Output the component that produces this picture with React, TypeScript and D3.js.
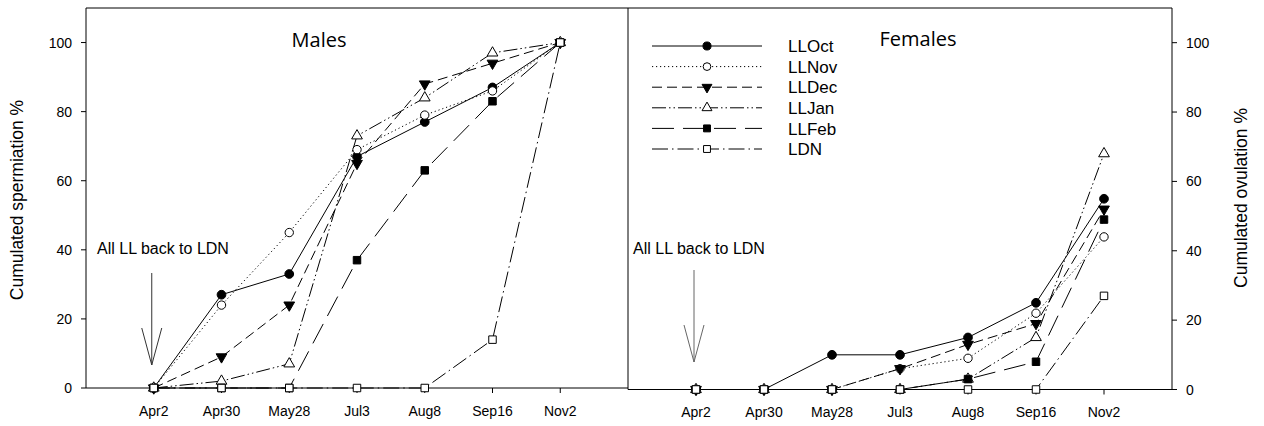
import React from 'react';
import * as d3 from 'd3';

const dates = ['Apr2', 'Apr30', 'May28', 'Jul3', 'Aug8', 'Sep16', 'Nov2'];
const yTicks = [0, 20, 40, 60, 80, 100];
const seriesNames = ['LLOct', 'LLNov', 'LLDec', 'LLJan', 'LLFeb', 'LDN'];

// Males: cumulated spermiation %
const malesLLOct = [0, 27, 33, 67, 77, 87, 100];
const malesLLNov = [0, 24, 45, 69, 79, 86, 100];
const malesLLDec = [0, 9, 24, 65, 88, 94, 100];
const malesLLJan = [0, 2, 7, 73, 84, 97, 100];
const malesLLFeb = [0, 0, 0, 37, 63, 83, 100];
const malesLDN = [0, 0, 0, 0, 0, 14, 100];

// Females: cumulated ovulation %
const femalesLLOct = [0, 0, 10, 10, 15, 25, 55];
const femalesLLNov = [0, 0, 0, 6, 9, 22, 44];
const femalesLLDec = [0, 0, 0, 6, 13, 19, 52];
const femalesLLJan = [0, 0, 0, 0, 3, 15, 68];
const femalesLLFeb = [0, 0, 0, 0, 3, 8, 49];
const femalesLDN = [0, 0, 0, 0, 0, 0, 27];

const malesData = [malesLLOct, malesLLNov, malesLLDec, malesLLJan, malesLLFeb, malesLDN];
const femalesData = [femalesLLOct, femalesLLNov, femalesLLDec, femalesLLJan, femalesLLFeb, femalesLDN];

type Style = { dash: string; sym: d3.SymbolType; size: number; fill: string; rot: number };
const styles: Record<string, Style> = {
  LLOct: { dash: 'none', sym: d3.symbolCircle, size: 60, fill: '#000', rot: 0 },
  LLNov: { dash: '1.2 2.8', sym: d3.symbolCircle, size: 55, fill: '#fff', rot: 0 },
  LLDec: { dash: '10 5', sym: d3.symbolTriangle, size: 50, fill: '#000', rot: 180 },
  LLJan: { dash: '14 3 1.5 3 1.5 3', sym: d3.symbolTriangle, size: 50, fill: '#fff', rot: 0 },
  LLFeb: { dash: '22 9', sym: d3.symbolSquare, size: 56, fill: '#000', rot: 0 },
  LDN: { dash: '16 4 1.5 4', sym: d3.symbolSquare, size: 56, fill: '#fff', rot: 0 },
};

const W = 1264;
const H = 426;
const numFont = '"Liberation Sans", Arial, sans-serif';
const titleFont = '"Open Sans", sans-serif';

function Marker({ x, y, st }: { x: number; y: number; st: Style }) {
  const d = d3.symbol().type(st.sym).size(st.size)() as string;
  return (
    <path
      d={d}
      transform={`translate(${x},${y}) rotate(${st.rot})`}
      fill={st.fill}
      stroke="#000"
      strokeWidth={1}
    />
  );
}

function Panel({
  data,
  xScale,
  yScale,
}: {
  data: number[][];
  xScale: d3.ScaleLinear<number, number>;
  yScale: d3.ScaleLinear<number, number>;
}) {
  const line = d3
    .line<number>()
    .x((_, i) => xScale(i))
    .y((v) => yScale(v));
  return (
    <g>
      {data.map((vals, si) => {
        const st = styles[seriesNames[si]];
        return (
          <g key={si}>
            <path d={line(vals) as string} fill="none" stroke="#000" strokeWidth={1} strokeDasharray={st.dash} />
            {vals.map((v, i) => (
              <Marker key={i} x={xScale(i)} y={yScale(v)} st={st} />
            ))}
          </g>
        );
      })}
    </g>
  );
}

function Arrow({ x, top, tip, color }: { x: number; top: number; tip: number; color: string }) {
  return (
    <g stroke={color} strokeWidth={1} fill="none">
      <line x1={x} y1={top} x2={x} y2={tip} />
      <polyline points={`${x - 10},${tip - 37} ${x},${tip} ${x + 10},${tip - 37}`} />
    </g>
  );
}

export default function App() {
  const xL = d3.scaleLinear().domain([-1, 7]).range([86, 628]);
  const xR = d3.scaleLinear().domain([-1, 7]).range([628, 1172]);
  const yL = d3.scaleLinear().domain([0, 110]).range([388, 8]);
  const yR = d3.scaleLinear().domain([0, 110]).range([389.5, 8]);

  return (
    <svg
      width={W}
      height={H}
      style={{ position: 'absolute', left: 0, top: 0, background: '#fff' }}
      xmlns="http://www.w3.org/2000/svg"
    >
      <rect x={0} y={0} width={W} height={H} fill="#fff" />

      {/* frames */}
      <g stroke="#000" strokeWidth={1} fill="none">
        <line x1={xL(-1)} y1={8} x2={xR(7)} y2={8} />
        <line x1={xL(-1)} y1={8} x2={xL(-1)} y2={yL(0)} />
        <line x1={xL(7)} y1={8} x2={xL(7)} y2={yR(0)} />
        <line x1={xL(-1)} y1={yL(0)} x2={xL(7)} y2={yL(0)} />
        <line x1={xR(-1)} y1={yR(0)} x2={xR(7)} y2={yR(0)} />
        <line x1={xR(7)} y1={8} x2={xR(7)} y2={yR(0)} />
      </g>

      {/* left y ticks */}
      {yTicks.map((t) => (
        <g key={'yl' + t}>
          <line x1={xL(-1) - 5} x2={xL(-1)} y1={yL(t)} y2={yL(t)} stroke="#000" />
          <text x={xL(-1) - 14} y={yL(t)} dy="0.36em" textAnchor="end" fontFamily={numFont} fontSize={14}>
            {t}
          </text>
        </g>
      ))}
      {/* right y ticks */}
      {yTicks.map((t) => (
        <g key={'yr' + t}>
          <line x1={xR(7)} x2={xR(7) + 5} y1={yR(t)} y2={yR(t)} stroke="#000" />
          <text x={xR(7) + 14} y={yR(t)} dy="0.36em" textAnchor="start" fontFamily={numFont} fontSize={14}>
            {t}
          </text>
        </g>
      ))}
      {/* x ticks */}
      {dates.map((dt, i) => (
        <g key={'xl' + i}>
          <line x1={xL(i)} x2={xL(i)} y1={yL(0)} y2={yL(0) + 5} stroke="#000" />
          <text x={xL(i)} y={416} textAnchor="middle" fontFamily={numFont} fontSize={14}>
            {dt}
          </text>
          <line x1={xR(i)} x2={xR(i)} y1={yR(0)} y2={yR(0) + 5} stroke="#000" />
          <text x={xR(i)} y={417} textAnchor="middle" fontFamily={numFont} fontSize={14}>
            {dt}
          </text>
        </g>
      ))}

      {/* axis titles */}
      <text
        transform="translate(23,200) rotate(-90)"
        textAnchor="middle"
        fontFamily={numFont}
        fontSize={17.5}
      >
        Cumulated spermiation %
      </text>
      <text
        transform="translate(1247,198) rotate(-90)"
        textAnchor="middle"
        fontFamily={numFont}
        fontSize={17.5}
      >
        Cumulated ovulation %
      </text>

      {/* panel titles */}
      <text x={319} y={47} textAnchor="middle" fontFamily={titleFont} fontSize={20}>
        Males
      </text>
      <text x={918} y={46} textAnchor="middle" fontFamily={titleFont} fontSize={20}>
        Females
      </text>

      {/* annotations */}
      <text x={97} y={254} fontFamily={numFont} fontSize={16}>
        All LL back to LDN
      </text>
      <Arrow x={xL(0) - 2} top={273} tip={365} color="#333" />
      <text x={633} y={254} fontFamily={numFont} fontSize={16}>
        All LL back to LDN
      </text>
      <Arrow x={xR(0) - 2} top={270} tip={362} color="#666" />

      <Panel data={malesData} xScale={xL} yScale={yL} />
      <Panel data={femalesData} xScale={xR} yScale={yR} />

      {/* legend */}
      {seriesNames.map((name, i) => {
        const st = styles[name];
        const y = 46 + i * 20.6;
        return (
          <g key={'lg' + name}>
            <line x1={652} x2={762} y1={y} y2={y} stroke="#000" strokeWidth={1} strokeDasharray={st.dash} />
            <Marker x={707} y={y} st={{ ...st, size: st.size * 0.85 }} />
            <text x={788} y={y} dy="0.36em" fontFamily={numFont} fontSize={17}>
              {name}
            </text>
          </g>
        );
      })}
    </svg>
  );
}
